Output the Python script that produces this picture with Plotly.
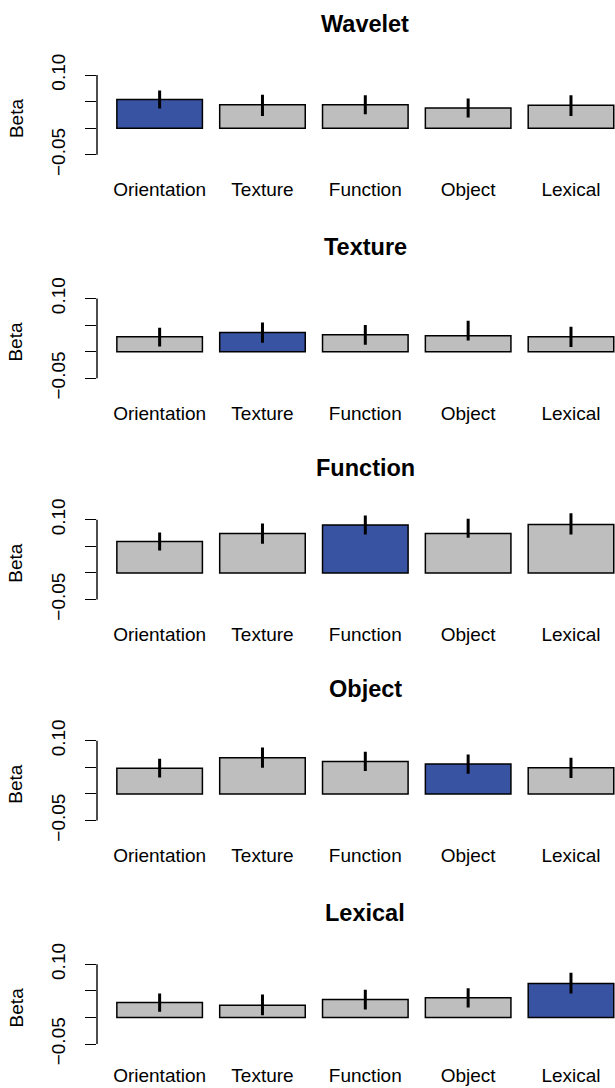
import plotly.graph_objects as go

categories = ["Orientation", "Texture", "Function", "Object", "Lexical"]
panel_titles = ["Wavelet", "Texture", "Function", "Object", "Lexical"]

beta_wavelet = [0.054, 0.044, 0.044, 0.038, 0.043]
beta_texture = [0.028, 0.036, 0.032, 0.030, 0.028]
beta_function = [0.059, 0.074, 0.090, 0.074, 0.091]
beta_object = [0.048, 0.068, 0.061, 0.056, 0.049]
beta_lexical = [0.028, 0.023, 0.034, 0.037, 0.064]

err_up_wavelet = [0.017, 0.019, 0.018, 0.018, 0.019]
err_dn_wavelet = [0.017, 0.021, 0.018, 0.018, 0.020]
err_up_texture = [0.017, 0.019, 0.018, 0.028, 0.019]
err_dn_texture = [0.018, 0.019, 0.019, 0.009, 0.019]
err_up_function = [0.017, 0.019, 0.018, 0.028, 0.021]
err_dn_function = [0.017, 0.019, 0.018, 0.008, 0.019]
err_up_object = [0.018, 0.019, 0.018, 0.018, 0.019]
err_dn_object = [0.017, 0.019, 0.018, 0.018, 0.019]
err_up_lexical = [0.017, 0.020, 0.018, 0.018, 0.020]
err_dn_lexical = [0.017, 0.019, 0.019, 0.018, 0.019]

highlighted = ["Orientation", "Texture", "Function", "Object", "Lexical"]

y_tick_vals = [-0.05, 0.0, 0.05, 0.10]
y_tick_text = ["\u22120.05", "", "", "0.10"]
y_axis_label = "Beta"

betas = [beta_wavelet, beta_texture, beta_function, beta_object, beta_lexical]
err_ups = [err_up_wavelet, err_up_texture, err_up_function, err_up_object, err_up_lexical]
err_dns = [err_dn_wavelet, err_dn_texture, err_dn_function, err_dn_object, err_dn_lexical]

# ---- layout / style ----
W, H = 615, 1088
FONT = "Liberation Sans, Arial, Helvetica, sans-serif"
LABEL_SIZE = 19
TITLE_SIZE = 23.5
GRAY = "#BEBEBE"
BLUE = "#3953A3"
tick_top_px = [75.0, 298.5, 519.7, 740.7, 964.3]   # pixel row of the 0.10 tick
x_label_standoff = [11, 11, 11, 11, 7]
px_per_unit = 532.0
y_lo, y_hi = -0.07, 0.125
axis_left_px = 97.0
x_range = [-0.609, 4.428]

fig = go.Figure()
layout = dict(
    width=W, height=H, template="none",
    margin=dict(l=0, r=0, t=0, b=0),
    paper_bgcolor="white", plot_bgcolor="white",
    showlegend=False, bargap=0.168,
    font=dict(family=FONT, size=LABEL_SIZE, color="black"),
)
annotations = []
shapes = []

for i in range(5):
    xa = "x" if i == 0 else f"x{i+1}"
    ya = "y" if i == 0 else f"y{i+1}"
    t = tick_top_px[i]
    top_px = t - (y_hi - 0.10) * px_per_unit
    bot_px = t + (0.10 - y_lo) * px_per_unit
    dom = [1 - bot_px / H, 1 - top_px / H]
    colors = [BLUE if c == highlighted[i] else GRAY for c in categories]
    fig.add_trace(go.Bar(
        x=categories, y=betas[i], xaxis=xa, yaxis=ya,
        marker=dict(color=colors, line=dict(color="black", width=1.5)),
        error_y=dict(type="data", symmetric=False, array=err_ups[i],
                     arrayminus=err_dns[i], color="black", thickness=3, width=0),
    ))
    layout["xaxis" if i == 0 else f"xaxis{i+1}"] = dict(
        domain=[axis_left_px / W, 1.0], range=x_range, anchor=ya,
        showgrid=False, zeroline=False, showline=False, ticks="",
        tickfont=dict(family=FONT, size=LABEL_SIZE, color="black"),
        ticklabelstandoff=x_label_standoff[i], automargin=False, fixedrange=True,
    )
    layout["yaxis" if i == 0 else f"yaxis{i+1}"] = dict(
        domain=dom, range=[y_lo, y_hi], anchor=xa,
        showgrid=False, zeroline=False, showline=False,
        tickmode="array", tickvals=y_tick_vals, ticktext=y_tick_text,
        ticks="outside", ticklen=11, tickwidth=1.4, tickcolor="black",
        tickangle=-90, ticklabelstandoff=12,
        tickfont=dict(family=FONT, size=LABEL_SIZE, color="black"),
        automargin=False, fixedrange=True,
    )
    # axis line only between first and last tick (R style)
    shapes.append(dict(type="line", xref=f"{xa} domain", yref=ya,
                       x0=0, x1=0, y0=y_tick_vals[0], y1=y_tick_vals[-1],
                       line=dict(color="black", width=1.4)))
    # panel title
    annotations.append(dict(text=f"<b>{panel_titles[i]}</b>", xref="paper", yref="paper",
                            x=365.3 / W, y=1 - (t - 51.5) / H, showarrow=False,
                            xanchor="center", yanchor="middle",
                            font=dict(family=FONT, size=TITLE_SIZE, color="black")))
    # y axis label
    annotations.append(dict(text=y_axis_label, xref="paper", yref=ya,
                            x=16 / W, y=(y_tick_vals[0] + y_tick_vals[-1]) / 2 - 0.006,
                            showarrow=False, textangle=-90,
                            xanchor="center", yanchor="middle",
                            font=dict(family=FONT, size=LABEL_SIZE, color="black")))

layout["annotations"] = annotations
layout["shapes"] = shapes
fig.update_layout(**layout)
fig.write_html("out.html")
